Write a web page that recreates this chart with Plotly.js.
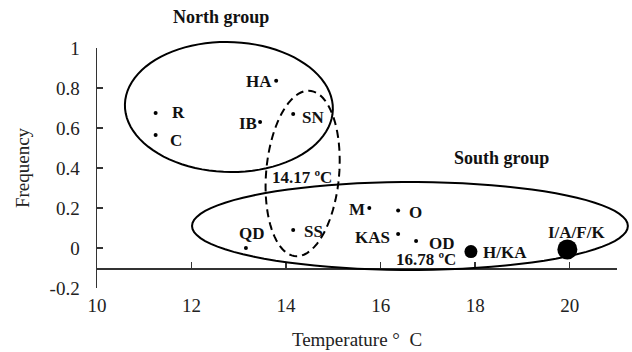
<!DOCTYPE html>
<html>
<head>
<meta charset="utf-8">
<script src="https://cdn.plot.ly/plotly-3.0.1.min.js"></script>
<style>html,body{margin:0;padding:0;background:#fff;}#chart{width:632px;height:352px;}</style>
</head>
<body>
<div id="chart"></div>
<script>
// ---- data ----
const sites = ['R', 'C', 'HA', 'IB', 'SN', 'QD', 'SS', 'M', 'O', 'KAS', 'OD'];
const temps = [11.24, 11.24, 13.79, 13.45, 14.15, 13.15, 14.15, 15.76, 16.37, 16.37, 16.75];
const freqs = [0.675, 0.565, 0.836, 0.63, 0.67, 0.0, 0.09, 0.2, 0.187, 0.07, 0.035];
const pooledSites = ['H/KA', 'I/A/F/K'];
const pooledTemps = [17.91, 19.95];
const pooledFreqs = [-0.018, -0.007];
const xTicks = [10, 12, 14, 16, 18, 20];
const yTicks = [-0.2, 0, 0.2, 0.4, 0.6, 0.8, 1];
const yTickText = ['-0.2', '0', '0.2', '0.4', '0.6', '0.8', '1'];
const thresholds = ['14.17 ºC', '16.78 ºC'];
const groupNames = ['North group', 'South group'];

// ---- layout helpers ----
const XR = [10, 21], YR = [-0.2, 1];
const M = {l: 97, r: 15, t: 48, b: 64};
const W = 632, H = 352;
const PW = W - M.l - M.r, PH = H - M.t - M.b;
const fx = x => (x - XR[0]) / (XR[1] - XR[0]);
const fy = y => (y - YR[0]) / (YR[1] - YR[0]);
// ellipse in data coords, rotation in screen degrees (clockwise)
function ellipsePath(cx, cy, rx, ry, deg) {
  const sx = PW / (XR[1] - XR[0]), sy = PH / (YR[1] - YR[0]);
  const a = rx * sx, b = ry * sy, t = deg * Math.PI / 180;
  let d = '';
  for (let i = 0; i <= 90; i++) {
    const th = i / 90 * 2 * Math.PI;
    const ex = a * Math.cos(th), ey = b * Math.sin(th);
    const px = ex * Math.cos(t) + ey * Math.sin(t);
    const py = -ex * Math.sin(t) + ey * Math.cos(t);
    const X = fx(cx) + px / PW, Y = fy(cy) + py / PH;
    d += (i === 0 ? 'M' : 'L') + X.toFixed(5) + ',' + Y.toFixed(5);
  }
  return d + 'Z';
}

const serif = "Liberation Serif, Times New Roman, serif";
const labelFont = {family: serif, size: 17, color: '#111'};
const b = s => '<b>' + s + '</b>';

const traces = [
  {type: 'scatter', mode: 'markers', x: temps, y: freqs, text: sites,
   marker: {color: '#000', size: 4, opacity: 1, line: {width: 0}}, hoverinfo: 'text', cliponaxis: false},
  {type: 'scatter', mode: 'markers', x: pooledTemps, y: pooledFreqs, text: pooledSites,
   marker: {color: '#000', size: [13, 20], opacity: 1, line: {width: 0}}, hoverinfo: 'text', cliponaxis: false}
];

// label offsets (pixels) relative to each point
const offs = {R: [23, 1], C: [20, -5], HA: [-17, -1], IB: [-12, -1], SN: [20, -3], QD: [6, 15],
  SS: [20, -1], M: [-12, -1], O: [17, -2], KAS: [-26, -3], OD: [26, -2],
  'H/KA': [34, -1], 'I/A/F/K': [9, 17]};
const annotations = [];
sites.forEach((s, i) => annotations.push({x: temps[i], y: freqs[i], text: b(s), showarrow: false,
  xshift: offs[s][0], yshift: offs[s][1], font: labelFont}));
pooledSites.forEach((s, i) => annotations.push({x: pooledTemps[i], y: pooledFreqs[i], text: b(s), showarrow: false,
  xshift: offs[s][0], yshift: offs[s][1], font: labelFont}));
annotations.push({xref: 'paper', yref: 'paper', x: fx(12.62), y: fy(1.155), xanchor: 'center', yanchor: 'middle',
  text: b(groupNames[0]), showarrow: false, font: {family: serif, size: 18, color: '#111'}});
annotations.push({x: 18.55, y: 0.45, text: b(groupNames[1]), showarrow: false, font: {family: serif, size: 18, color: '#111'}});
annotations.push({x: 14.34, y: 0.355, text: b(thresholds[0]), showarrow: false, font: labelFont});
annotations.push({x: 16.96, y: -0.055, text: b(thresholds[1]), showarrow: false, font: labelFont});

const shapes = [
  {type: 'path', xref: 'paper', yref: 'paper', path: ellipsePath(12.79, 0.705, 2.2, 0.325, 1.5),
   line: {color: '#000', width: 2}},
  {type: 'path', xref: 'paper', yref: 'paper', path: ellipsePath(14.35, 0.3725, 0.772, 0.415, 5),
   line: {color: '#000', width: 2, dash: '8px,5px'}},
  {type: 'path', xref: 'paper', yref: 'paper', path: ellipsePath(16.62, 0.11, 4.61, 0.22, 0),
   line: {color: '#000', width: 2}}
];

const layout = {
  width: W, height: H, margin: M, showlegend: false,
  paper_bgcolor: '#fff', plot_bgcolor: '#fff',
  font: {family: serif, color: '#222'},
  xaxis: {range: XR, anchor: 'free', position: fy(-0.1), showline: true, linecolor: '#333', linewidth: 1.5,
    ticks: 'inside', ticklen: 6, tickcolor: '#333', tickwidth: 1.5, tickvals: xTicks,
    ticklabelstandoff: 20, tickfont: {family: serif, size: 19, color: '#222'},
    showgrid: false, zeroline: false,
    title: {text: 'Temperature °  C', font: {family: serif, size: 19, color: '#222'}, standoff: 17}},
  yaxis: {range: YR, showline: true, linecolor: '#333', linewidth: 1.5,
    ticks: 'inside', ticklen: 6, tickcolor: '#333', tickwidth: 1.5, tickvals: yTicks, ticktext: yTickText,
    ticklabelstandoff: 12, tickfont: {family: serif, size: 19, color: '#222'},
    showgrid: false, zeroline: false,
    title: {text: 'Frequency', font: {family: serif, size: 19, color: '#222'}, standoff: 15}},
  annotations: annotations, shapes: shapes
};

Plotly.newPlot('chart', traces, layout, {displayModeBar: false, staticPlot: true});
</script>
</body>
</html>
